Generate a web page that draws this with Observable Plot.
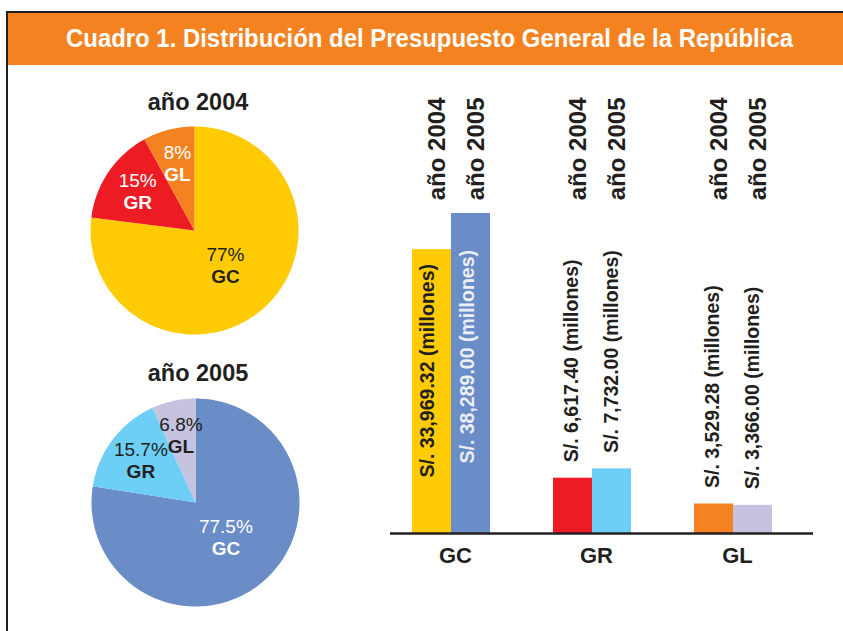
<!DOCTYPE html>
<html>
<head>
<meta charset="utf-8">
<script src="https://cdn.jsdelivr.net/npm/d3@7"></script>
<script src="https://cdn.jsdelivr.net/npm/@observablehq/plot@0.6"></script>
<style>
  html, body { margin: 0; padding: 0; background: #fff; }
  body { width: 843px; height: 631px; overflow: hidden; position: relative; font-family: "Liberation Sans", Arial, Helvetica, sans-serif; }
  #topline { position: absolute; left: 6px; top: 11px; width: 837px; height: 2px; background: #231f20; }
  #leftline { position: absolute; left: 6px; top: 11px; width: 2px; height: 620px; background: #231f20; }
  #header { position: absolute; left: 8px; top: 13px; width: 835px; height: 52px; background: #f58220; }
  #title { position: absolute; left: 66px; top: 26px; white-space: nowrap; color: #fff; font-weight: bold; font-size: 25px; line-height: 25px; transform-origin: 0 50%; }
  .pietitle { position: absolute; width: 200px; text-align: center; font-weight: bold; font-size: 23.5px; line-height: 24px; color: #231f20; }
  .abs { position: absolute; }
</style>
</head>
<body>
<div id="topline"></div>
<div id="leftline"></div>
<div id="header"></div>
<div id="title">Cuadro 1. Distribución del Presupuesto General de la República</div>
<div class="pietitle" id="pt2004" style="left:98px; top:90px;"></div>
<div class="pietitle" id="pt2005" style="left:98px; top:361px;"></div>
<div class="abs" id="pie2004" style="left:82px; top:118px;"></div>
<div class="abs" id="pie2005" style="left:83px; top:390px;"></div>
<div class="abs" id="bars" style="left:330px; top:70px;"></div>
<script>
// ---- data ----
const groups = ["GC", "GR", "GL"];
const years = ["año 2004", "año 2005"];
const share2004 = [77, 15, 8];
const share2005 = [77.5, 15.7, 6.8];
const budget2004 = [33969.32, 6617.40, 3529.28];
const budget2005 = [38289.00, 7732.00, 3366.00];

// ---- styles ----
const colors2004 = ["#ffcb05", "#ed1c24", "#f58220"];
const colors2005 = ["#6a8cc7", "#6dcff6", "#c5c3e0"];
const pieText2004 = ["#231f20", "#ffffff", "#ffffff"];
const pieText2005 = ["#ffffff", "#231f20", "#231f20"];
const dark = "#231f20";
const font = "'Liberation Sans', Arial, Helvetica, sans-serif";

document.getElementById("pt2004").textContent = years[0];
document.getElementById("pt2005").textContent = years[1];

// ---- pies ----
function pieChart(shares, colors, textColors) {
  const rows = groups.map((g, i) => ({key: g, share: shares[i], color: colors[i], tcolor: textColors[i]}));
  const arcs = d3.pie().sort(null).value(d => d.share).startAngle(0).endAngle(2 * Math.PI)(rows);
  const pts = [];
  const labels = [];
  for (const s of arcs) {
    pts.push({key: s.data.key, color: s.data.color, x: 0, y: 0});
    const n = Math.max(2, Math.ceil((s.endAngle - s.startAngle) / (Math.PI / 180)));
    for (let k = 0; k <= n; k++) {
      const a = s.startAngle + (s.endAngle - s.startAngle) * k / n;
      pts.push({key: s.data.key, color: s.data.color, x: Math.sin(a), y: Math.cos(a)});
    }
    const mid = (s.startAngle + s.endAngle) / 2;
    const rho = s.data.share > 50 ? 0.45 : 0.66;
    labels.push({key: s.data.key, pct: `${s.data.share}%`, color: s.data.tcolor, x: rho * Math.sin(mid), y: rho * Math.cos(mid)});
  }
  return Plot.plot({
    width: 224, height: 224, margin: 8,
    style: {fontFamily: font, background: "transparent"},
    x: {domain: [-1, 1], axis: null},
    y: {domain: [-1, 1], axis: null},
    color: {type: "identity"},
    marks: [
      Plot.line(pts, {x: "x", y: "y", z: "key", fill: "color", stroke: "none"}),
      Plot.text(labels, {x: "x", y: "y", text: "pct", fill: "color", dy: -11, fontSize: 19}),
      Plot.text(labels, {x: "x", y: "y", text: "key", fill: "color", dy: 11, fontSize: 19, fontWeight: "bold"})
    ]
  });
}
document.getElementById("pie2004").appendChild(pieChart(share2004, colors2004, pieText2004));
document.getElementById("pie2005").appendChild(pieChart(share2005, colors2005, pieText2005));

// ---- bars ----
const fmt = d3.format(",.2f");
const bars = groups.flatMap((g, i) => [
  {group: g, year: years[0], value: budget2004[i], color: colors2004[i], label: `S/. ${fmt(budget2004[i])} (millones)`},
  {group: g, year: years[1], value: budget2005[i], color: colors2005[i], label: `S/. ${fmt(budget2005[i])} (millones)`}
]);
const b04 = bars.filter(d => d.year === years[0]);
const b05 = bars.filter(d => d.year === years[1]);
const half = 39;
const vfs = 19.5;

const barPlot = Plot.plot({
  width: 513, height: 520,
  marginLeft: 60, marginRight: 30, marginTop: 143, marginBottom: 57,
  style: {fontFamily: font, background: "transparent", overflow: "visible"},
  x: {domain: groups, paddingInner: 0.449, paddingOuter: 0.219, align: 0.355, axis: null},
  y: {domain: [0, d3.max([...budget2004, ...budget2005])], axis: null},
  color: {type: "identity"},
  marks: [
    Plot.barY(b04, {x: "group", y: "value", fill: "color", insetRight: half}),
    Plot.barY(b05, {x: "group", y: "value", fill: "color", insetLeft: half}),
    Plot.ruleY([0], {stroke: dark, strokeWidth: 2.5}),
    // year headers
    Plot.text(b04, {x: "group", text: "year", frameAnchor: "top", rotate: -90, textAnchor: "end", dy: -116, dx: -half / 2 - 4, fontSize: 24, fontWeight: "bold", fill: dark}),
    Plot.text(b05, {x: "group", text: "year", frameAnchor: "top", rotate: -90, textAnchor: "end", dy: -116, dx: half / 2 - 4, fontSize: 24, fontWeight: "bold", fill: dark}),
    // value labels inside GC bars
    Plot.text(b04.filter(d => d.group === "GC"), {x: "group", text: "label", frameAnchor: "bottom", rotate: -90, textAnchor: "start", dy: -56, dx: -half / 2 + 2, fontSize: vfs, fontWeight: "bold", fill: dark}),
    Plot.text(b05.filter(d => d.group === "GC"), {x: "group", text: "label", frameAnchor: "bottom", rotate: -90, textAnchor: "start", dy: -70, dx: half / 2 + 3, fontSize: vfs, fontWeight: "bold", fill: "#eceef6"}),
    // value labels above other bars
    Plot.text(b04.filter(d => d.group !== "GC"), {x: "group", y: "value", text: "label", rotate: -90, textAnchor: "start", dy: -16, dx: -half / 2 - 1, fontSize: vfs, fontWeight: "bold", fill: dark}),
    Plot.text(b05.filter(d => d.group !== "GC"), {x: "group", y: "value", text: "label", rotate: -90, textAnchor: "start", dy: -16, dx: half / 2, fontSize: vfs, fontWeight: "bold", fill: dark}),
    // group labels
    Plot.text(groups, {x: d => d, frameAnchor: "bottom", dy: 29, dx: 4, fontSize: 22, fontWeight: "bold", fill: dark})
  ]
});
document.getElementById("bars").appendChild(barPlot);

// fit title width
const t = document.getElementById("title");
const w = t.getBoundingClientRect().width;
t.style.transform = `scaleX(${727 / w})`;
</script>
</body>
</html>
